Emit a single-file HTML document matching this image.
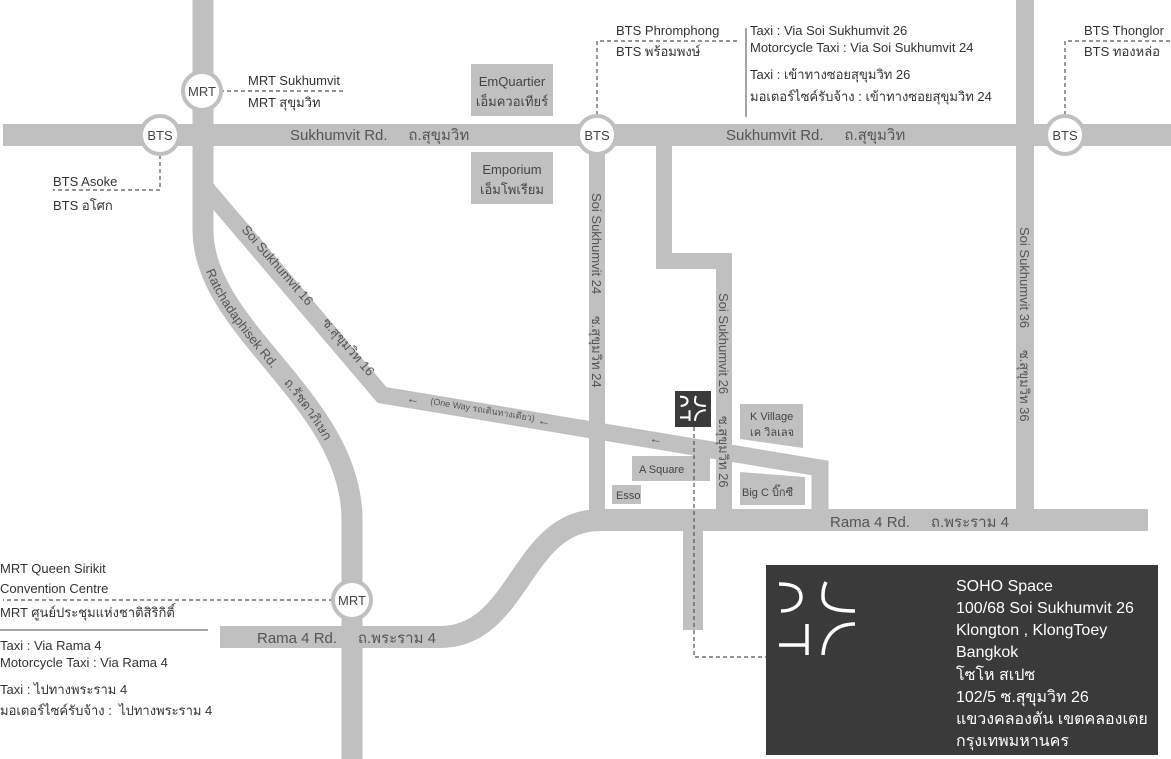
<!DOCTYPE html>
<html><head><meta charset="utf-8"><style>
html,body{margin:0;padding:0;background:#fff;}
svg{display:block;font-family:"Liberation Sans","DejaVu Sans",sans-serif;}
text{white-space:pre;}
</style></head><body>
<svg width="1171" height="759" viewBox="0 0 1171 759" xmlns="http://www.w3.org/2000/svg">
<defs>
  <path id="ratch" d="M203,0 L203,230 C203,330 352,400 352,520 L352,759"/>
</defs>
<g fill="none" stroke="#c0c0c1" stroke-linejoin="miter">
  <path d="M3,135 H1171" stroke-width="22"/>
  <use href="#ratch" stroke-width="21"/>
  <path d="M206,188 L382,395 L820,468 L820,520" stroke-width="17"/>
  <path d="M220,637 L440,637 C520,637 520,520 600,520 L1148,520" stroke-width="22"/>
  <path d="M597,146 V520" stroke-width="16"/>
  <path d="M664,146 V261 H724 V520" stroke-width="16"/>
  <path d="M693,530 V630" stroke-width="20"/>
  <path d="M1025,0 V520" stroke-width="18"/>
</g>
<g fill="#c0c0c1">
  <rect x="471" y="64" width="82" height="52"/>
  <rect x="471" y="152" width="82" height="52"/>
  <polygon points="740,404 803,404 803,448 740,439"/>
  <polygon points="740,472 805,477 805,505 740,505"/>
  <rect x="632" y="456" width="78" height="25"/>
  <rect x="612" y="485" width="29" height="19"/>
</g>
<g font-size="13" fill="#444" text-anchor="middle">
  <text x="512" y="86">EmQuartier</text><text x="512" y="106">เอ็มควอเทียร์</text>
  <text x="512" y="174">Emporium</text><text x="512" y="194">เอ็มโพเรียม</text>
</g>
<g font-size="11" fill="#444">
  <text x="750" y="420">K Village</text><text x="750" y="436">เค วิลเลจ</text>
  <text x="742" y="496">Big C บิ๊กซี</text>
  <text x="639" y="473">A Square</text>
  <text x="616" y="499">Esso</text>
</g>
<g fill="none" stroke="#555" stroke-width="1.2" stroke-dasharray="4,3">
  <path d="M220,91 H345"/>
  <path d="M160,155 V190 H53"/>
  <path d="M597,115 V41 H740"/>
  <path d="M1065,115 V41 H1171"/>
  <path d="M333,600 H3"/>
  <path d="M694,427 V657 H766"/>
</g>
<line x1="0" y1="630" x2="208" y2="630" stroke="#888" stroke-width="1.5"/>
<line x1="746" y1="28" x2="746" y2="117" stroke="#666" stroke-width="1.2"/>
<g fill="#fff" stroke="#c0c0c1" stroke-width="4">
  <circle cx="202" cy="91" r="19"/>
  <circle cx="160" cy="135" r="19"/>
  <circle cx="597" cy="135" r="19"/>
  <circle cx="1065" cy="135" r="19"/>
  <circle cx="352" cy="600" r="19"/>
</g>
<g font-size="13" fill="#444" text-anchor="middle">
  <text x="202" y="96">MRT</text>
  <text x="160" y="140">BTS</text>
  <text x="597" y="140">BTS</text>
  <text x="1065" y="140">BTS</text>
  <text x="352" y="605">MRT</text>
</g>
<g font-size="13" fill="#333">
  <text x="248" y="85">MRT Sukhumvit</text><text x="248" y="107">MRT สุขุมวิท</text>
  <text x="53" y="186">BTS Asoke</text><text x="53" y="210">BTS อโศก</text>
  <text x="616" y="35">BTS Phromphong</text><text x="616" y="56">BTS พร้อมพงษ์</text>
  <text x="1084" y="35">BTS Thonglor</text><text x="1084" y="56">BTS ทองหล่อ</text>
  <text x="750" y="35">Taxi : Via Soi Sukhumvit 26</text>
  <text x="750" y="52">Motorcycle Taxi : Via Soi Sukhumvit 24</text>
  <text x="750" y="79">Taxi : เข้าทางซอยสุขุมวิท 26</text>
  <text x="750" y="101">มอเตอร์ไซค์รับจ้าง : เข้าทางซอยสุขุมวิท 24</text>
  <text x="0" y="573">MRT Queen Sirikit</text><text x="0" y="593">Convention Centre</text>
  <text x="0" y="617">MRT ศูนย์ประชุมแห่งชาติสิริกิติ์</text>
  <text x="0" y="650">Taxi : Via Rama 4</text>
  <text x="0" y="667">Motorcycle Taxi : Via Rama 4</text>
  <text x="0" y="694">Taxi : ไปทางพระราม 4</text>
  <text x="0" y="715">มอเตอร์ไซค์รับจ้าง :  ไปทางพระราม 4</text>
</g>
<g font-size="15" fill="#555">
  <text x="290" y="140">Sukhumvit Rd.     ถ.สุขุมวิท</text>
  <text x="726" y="140">Sukhumvit Rd.     ถ.สุขุมวิท</text>
  <text x="830" y="527">Rama 4 Rd.     ถ.พระราม 4</text>
  <text x="257" y="643">Rama 4 Rd.     ถ.พระราม 4</text>
</g>
<g font-size="13" fill="#555">
  <text transform="translate(592,193) rotate(90)">Soi Sukhumvit 24      ซ.สุขุมวิท 24</text>
  <text transform="translate(719,293) rotate(90)">Soi Sukhumvit 26      ซ.สุขุมวิท 26</text>
  <text transform="translate(1020,227) rotate(90)">Soi Sukhumvit 36      ซ.สุขุมวิท 36</text>
  <text transform="translate(241,230) rotate(49)">Soi Sukhumvit 16      ซ.สุขุมวิท 16</text>
  <text dominant-baseline="central"><textPath href="#ratch" startOffset="270">Ratchadaphisek Rd.     ถ.รัชดาภิเษก</textPath></text>
  <text transform="translate(430,404) rotate(9.5)" font-size="9">(One Way รถเดินทางเดียว)</text>
  <text transform="translate(406,402) rotate(9.5)">←</text>
  <text transform="translate(537,424) rotate(9.5)">←</text>
  <text transform="translate(649,442) rotate(9.5)">←</text>
</g>
<rect x="675" y="391" width="36" height="36" fill="#3a3a3a"/>
<g transform="translate(680,396) scale(0.34)" fill="none" stroke="#fff" stroke-width="6">
  <path d="M0,2 C18,2 22,8 22,15 C22,23 14,29 2,29"/>
  <path d="M47,0 C44,6 44,10 44,15 C44,24 52,29 76,29"/>
  <path d="M0,63 H28 M28,42 V73"/>
  <path d="M76,42 C55,42 45,55 44,73"/>
</g>
<rect x="766" y="565" width="392" height="190" fill="#3a3a3a"/>
<g transform="translate(779,582)" fill="none" stroke="#fff" stroke-width="3.5">
  <path d="M0,2 C18,2 22,8 22,15 C22,23 14,29 2,29"/>
  <path d="M47,0 C44,6 44,10 44,15 C44,24 52,29 76,29"/>
  <path d="M0,63 H28 M28,42 V73"/>
  <path d="M76,42 C55,42 45,55 44,73"/>
</g>
<g font-size="16" fill="#fff">
  <text x="956" y="591">SOHO Space</text>
  <text x="956" y="613">100/68 Soi Sukhumvit 26</text>
  <text x="956" y="635">Klongton , KlongToey</text>
  <text x="956" y="657">Bangkok</text>
  <text x="956" y="680">โซโห สเปซ</text>
  <text x="956" y="702">102/5 ซ.สุขุมวิท 26</text>
  <text x="956" y="724">แขวงคลองตัน เขตคลองเตย</text>
  <text x="956" y="746">กรุงเทพมหานคร</text>
</g>
</svg>
</body></html>
